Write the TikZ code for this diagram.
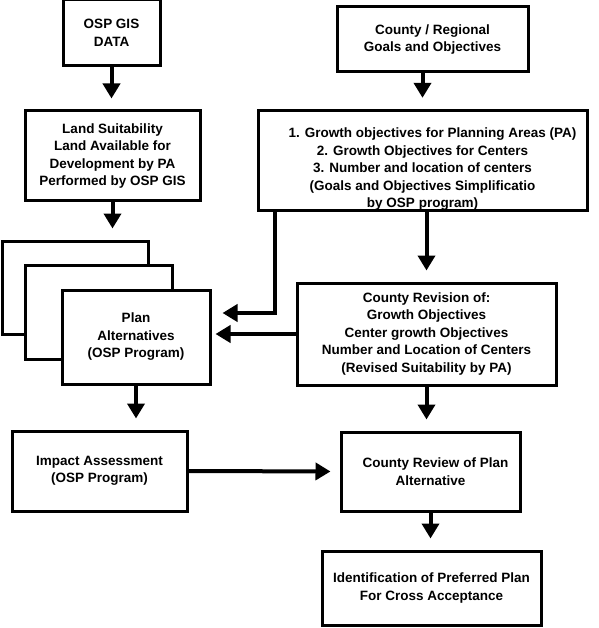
\documentclass[tikz,border=0pt]{standalone}
\usepackage{fontspec}
\setmainfont{Liberation Sans}
\usetikzlibrary{arrows.meta}
\begin{document}
\begin{tikzpicture}[x=1pt,y=-1pt,
  box/.style={draw,line width=3pt,fill=white,align=center,inner sep=0pt,
    font=\fontsize{13.5}{17.5}\selectfont\bfseries},
  arr/.style={line width=4pt,-{Triangle[width=17pt,length=15pt]},shorten >=11pt}]
\useasboundingbox (0,0) rectangle (598,628);
\node[box,minimum width=97,minimum height=66] (gis) at (111.5,33) {OSP GIS\\DATA};
\node[box,minimum width=175,minimum height=90] (land) at (112.5,156) {Land Suitability\\Land Available for\\Development by PA\\Performed by OSP GIS};
\node[box,minimum width=146,minimum height=93] (back1) at (75,287.5) {};
\node[box,minimum width=147,minimum height=94] (back2) at (98.5,312) {};
\node[box,minimum width=148,minimum height=94] (plan) at (136,337) {Plan\\Alternatives\\(OSP Program)};
\node[box,minimum width=191,minimum height=65] (county) at (432.5,39.5) {County / Regional\\Goals and Objectives};
\node[box,minimum width=329,minimum height=99] (growth) at (422.5,160.5) {\rule{0pt}{10pt}\\\hspace*{20pt}1. Growth objectives for Planning Areas (PA)\\2. Growth Objectives for Centers\\3. Number and location of centers\\(Goals and Objectives Simplificatio\\by OSP program)};
\node[box,minimum width=259,minimum height=102] (rev) at (426.5,334) {County Revision of:\\Growth Objectives\\Center growth Objectives\\Number and Location of Centers\\(Revised Suitability by PA)};
\node[box,minimum width=175,minimum height=80] (impact) at (99.5,471) {Impact Assessment\\(OSP Program)};
\node[box,minimum width=179,minimum height=79] (review) at (430.5,471.5) {\hspace*{10pt}County Review of Plan\\Alternative};
\node[box,minimum width=219,minimum height=74] (ident) at (431.5,588) {Identification of Preferred Plan\\For Cross Acceptance};
\draw[arr] (gis.south) -- (gis.south |- land.north);
\draw[arr] (land.south) -- (land.south |- back1.north);
\draw[arr] (county.south -| growth.north) -- (growth.north);
\draw[arr] ([xshift=18pt]growth.south west) |- ([yshift=24pt]plan.east);
\draw[arr] (growth.south -| rev.north) -- (rev.north);
\draw[arr,shorten >=0pt] (rev.west) -- ([xshift=4pt]rev.west -| plan.east);
\draw[arr] (plan.south) -- (plan.south |- impact.north);
\draw[arr] (rev.south) -- (rev.south |- review.north);
\draw[arr,shorten >=9pt] (impact.east) -- (review.west);
\draw[arr] (review.south) -- (review.south |- ident.north);
\end{tikzpicture}
\end{document}
